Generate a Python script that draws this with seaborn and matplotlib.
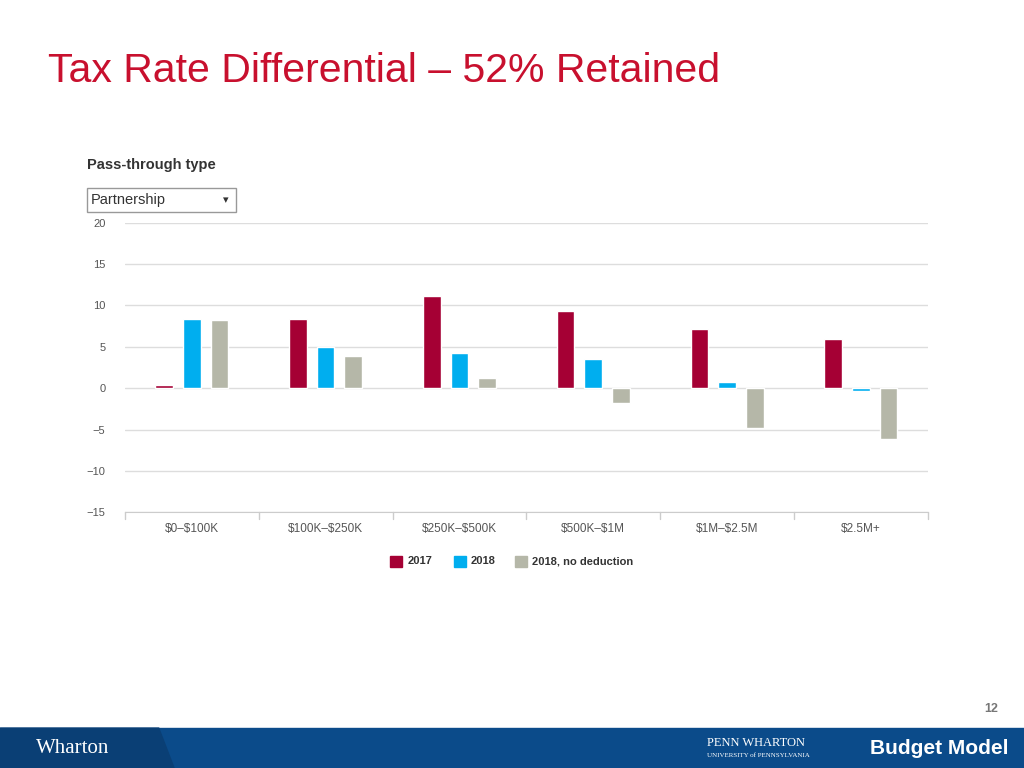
import pandas as pd
import matplotlib.pyplot as plt
import seaborn as sns
from matplotlib.patches import Rectangle, Polygon

categories = ["$0–$100K", "$100K–$250K", "$250K–$500K", "$500K–$1M", "$1M–$2.5M", "$2.5M+"]
series = ["2017", "2018", "2018, no deduction"]
v2017 = [0.4, 8.4, 11.1, 9.3, 7.1, 6.0]
v2018 = [8.4, 5.0, 4.2, 3.5, 0.8, -0.3]
v2018_nd = [8.3, 3.9, 1.2, -1.8, -4.8, -6.2]
colors = ["#a50034", "#00aeef", "#b5b7a8"]

df = pd.DataFrame({
    "bracket": categories * 3,
    "series": [s for s in series for _ in categories],
    "value": v2017 + v2018 + v2018_nd,
})

sns.set_style("white")
plt.rcParams['font.family'] = ['Liberation Sans', 'DejaVu Sans']
plt.rcParams['text.parse_math'] = False
fig = plt.figure(figsize=(10.24, 7.68), dpi=100)
ax = fig.add_axes([0.122, 0.333, 0.784, 0.377])

sns.barplot(data=df, x="bracket", y="value", hue="series", palette=colors,
            width=0.62, gap=0.36, saturation=1, ax=ax, legend=False)

ax.set_ylim(-15, 20)
ax.set_yticks(range(-15, 21, 5))
ax.set_yticklabels([str(t).replace("-", "−") for t in range(-15, 21, 5)], fontsize=8, color="#555555")
ax.yaxis.grid(True, color="#dddddd", lw=1)
ax.set_axisbelow(True)
ax.set_xlim(-0.5, 5.5)
ax.set_xlabel("")
ax.set_ylabel("")
ax.set_xticks(range(len(categories)))
ax.set_xticklabels(categories)
ax.tick_params(axis="x", labelsize=8.5, colors="#555555", length=0, pad=8)
ax.tick_params(axis="y", length=0, pad=14)
for s in ["top", "right", "left"]:
    ax.spines[s].set_visible(False)
ax.spines["bottom"].set_color("#cccccc")
for xb in [x + 0.5 for x in range(-1, 6)]:
    ax.plot([xb, xb], [-15, -15.8], color="#cccccc", lw=1, clip_on=False)

# legend
lx = [0.381, 0.443, 0.503]
for x0, c, s in zip(lx, colors, series):
    fig.patches.append(Rectangle((x0, 0.262), 0.012, 0.014, color=c, transform=fig.transFigure))
    fig.text(x0 + 0.017, 0.269, s, fontsize=8, fontweight="bold", color="#333333", va="center")

# title and control
fig.text(0.047, 0.908, "Tax Rate Differential – 52% Retained", fontsize=29.5, color="#c8102e", va="center")
fig.text(0.085, 0.785, "Pass-through type", fontsize=10.5, fontweight="bold", color="#333333", va="center")
fig.patches.append(Rectangle((0.085, 0.724), 0.145, 0.031, fill=False, ec="#999999", lw=1, transform=fig.transFigure))
fig.text(0.089, 0.739, "Partnership", fontsize=10.5, color="#333333", va="center")
fig.text(0.218, 0.739, "▾", fontsize=8, color="#333333", va="center")

# footer
fig.text(0.975, 0.077, "12", fontsize=9, fontweight="bold", color="#777777", ha="right", va="center")
fig.patches.append(Rectangle((0, 0), 1, 0.052, color="#0b4b8a", transform=fig.transFigure))
fig.patches.append(Polygon([(0, 0), (0.17, 0), (0.155, 0.052), (0, 0.052)], closed=True,
                           color="#0a3f75", transform=fig.transFigure))
fig.text(0.035, 0.026, "Wharton", fontsize=15, family="Liberation Serif", color="white", va="center")
fig.text(0.69, 0.033, "PENN WHARTON", fontsize=9, family="Liberation Serif", color="white", va="center")
fig.text(0.69, 0.016, "UNIVERSITY of PENNSYLVANIA", fontsize=5, family="Liberation Serif", color="white", va="center")
fig.text(0.985, 0.026, "Budget Model", fontsize=15, fontweight="bold", color="white", ha="right", va="center")

fig.savefig("out.png", dpi=100)
